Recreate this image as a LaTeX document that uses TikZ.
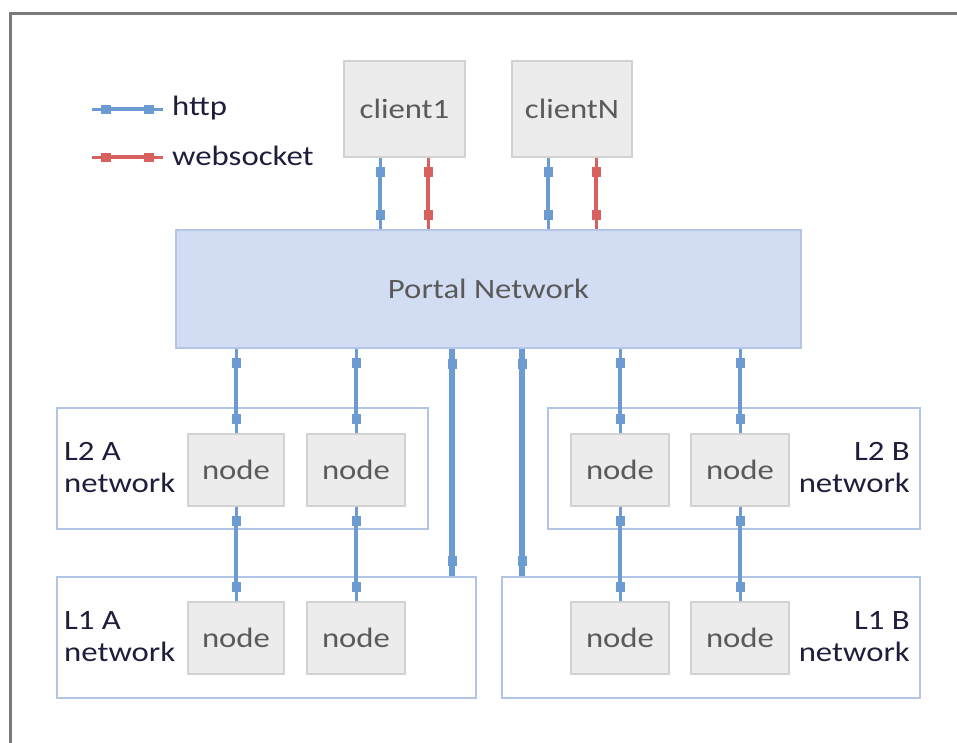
\documentclass[tikz,border=0pt]{standalone}
\usepackage{fontspec}
\setmainfont{Carlito}[FakeStretch=1.17]
\usetikzlibrary{arrows.meta}
\definecolor{httpblue}{HTML}{6B9BD1}
\definecolor{wsred}{HTML}{D8605F}
\definecolor{framegray}{HTML}{7A7A7A}
\definecolor{boxfill}{HTML}{ECECEC}
\definecolor{boxline}{HTML}{D2D2D2}
\definecolor{portalfill}{HTML}{D2DDF3}
\definecolor{portalline}{HTML}{B4C6E7}
\definecolor{netline}{HTML}{B3C5E6}
\definecolor{softtext}{HTML}{5A5A5A}
\definecolor{darktext}{HTML}{1E1E3C}
\tikzset{
  every node/.style={font=\fontsize{28}{32}\selectfont},
  hostbox/.style={draw=boxline, line width=1.8pt, fill=boxfill, text=softtext,
    minimum width=#1, minimum height=72pt, inner sep=0pt},
  netbox/.style={draw=netline, line width=2.4pt, minimum height=121pt, inner sep=0pt},
  netlabel/.style={text=darktext, align=#1, inner sep=0pt},
  link/.style={draw=#1, line width=3.6pt, shorten <=9pt, shorten >=9pt,
    {Rectangle[length=10pt,width=9pt]}-{Rectangle[length=10pt,width=9pt]},
    preaction={draw=#1, line width=3pt, -, shorten <=0pt, shorten >=0pt}},
  trunk/.style={draw=httpblue, line width=6pt, shorten <=10pt, shorten >=10pt,
    {Rectangle[length=10pt,width=9pt]}-{Rectangle[length=10pt,width=9pt]},
    preaction={draw=httpblue, line width=6pt, -, shorten <=0pt, shorten >=0pt}},
}
\begin{document}
\begin{tikzpicture}[x=1pt, y=-1pt]
  \useasboundingbox (0,0) rectangle (957,742);
  \clip (0,0) rectangle (957,742);

  % outer frame, running past the right and bottom edges
  \draw[framegray, line width=3pt] (10,13) rectangle (980,770);

  % legend
  \coordinate (lgH1) at (92,109);
  \coordinate (lgH2) at (163,109);
  \coordinate (lgW1) at (92,157);
  \coordinate (lgW2) at (163,157);
  \draw[link=httpblue] (lgH1) -- (lgH2);
  \draw[link=wsred] (lgW1) -- (lgW2);
  \node[anchor=west, text=darktext, inner sep=0pt] (lgHtext) at (172,108) {http};
  \node[anchor=west, text=darktext, inner sep=0pt] (lgWtext) at (172,156) {websocket};

  % clients
  \node[hostbox=121pt, minimum height=96pt] (client1) at (404.5,109) {client1};
  \node[hostbox=120pt, minimum height=96pt] (clientN) at (572,109) {clientN};

  % portal network
  \node[draw=portalline, line width=1.8pt, fill=portalfill, text=softtext,
        minimum width=625pt, minimum height=118pt, inner sep=0pt]
        (portal) at (488.5,289) {Portal Network};

  % network enclosures
  \node[netbox, minimum width=371pt] (L2A) at (242.5,468.5) {};
  \node[netbox, minimum width=372pt] (L2B) at (734,468.5) {};
  \node[netbox, minimum width=419pt] (L1A) at (266.5,637.5) {};
  \node[netbox, minimum width=418pt] (L1B) at (711,637.5) {};

  \node[netlabel=left, anchor=west] (L2Atext) at (64,468) {L2 A\\network};
  \node[netlabel=right, anchor=east] (L2Btext) at (910,468) {L2 B\\network};
  \node[netlabel=left, anchor=west] (L1Atext) at (64,637) {L1 A\\network};
  \node[netlabel=right, anchor=east] (L1Btext) at (910,637) {L1 B\\network};

  % member nodes
  \node[hostbox=96pt] (n2a1) at (236,470) {node};
  \node[hostbox=98pt] (n2a2) at (356,470) {node};
  \node[hostbox=98pt] (n2b1) at (620,470) {node};
  \node[hostbox=98pt] (n2b2) at (740,470) {node};
  \node[hostbox=96pt] (n1a1) at (236,638) {node};
  \node[hostbox=98pt] (n1a2) at (356,638) {node};
  \node[hostbox=98pt] (n1b1) at (620,638) {node};
  \node[hostbox=98pt] (n1b2) at (740,638) {node};

  % client links
  \coordinate (c1h) at (380,0);
  \coordinate (c1w) at (428,0);
  \coordinate (cNh) at (548,0);
  \coordinate (cNw) at (596,0);
  \draw[link=httpblue] (client1.south -| c1h) -- (portal.north -| c1h);
  \draw[link=wsred]    (client1.south -| c1w) -- (portal.north -| c1w);
  \draw[link=httpblue] (clientN.south -| cNh) -- (portal.north -| cNh);
  \draw[link=wsred]    (clientN.south -| cNw) -- (portal.north -| cNw);

  % portal to L2 members, L2 members to L1 members
  \foreach \up/\low in {n2a1/n1a1, n2a2/n1a2, n2b1/n1b1, n2b2/n1b2} {
    \draw[link=httpblue] (portal.south -| \up) -- (\up.north);
    \draw[link=httpblue] (\up.south) -- (\low.north);
  }

  % trunks from the portal to the L1 networks
  \coordinate (tA) at (452,0);
  \coordinate (tB) at (522,0);
  \draw[trunk] (portal.south -| tA) -- (L1A.north -| tA);
  \draw[trunk] (portal.south -| tB) -- (L1B.north -| tB);
\end{tikzpicture}
\end{document}
